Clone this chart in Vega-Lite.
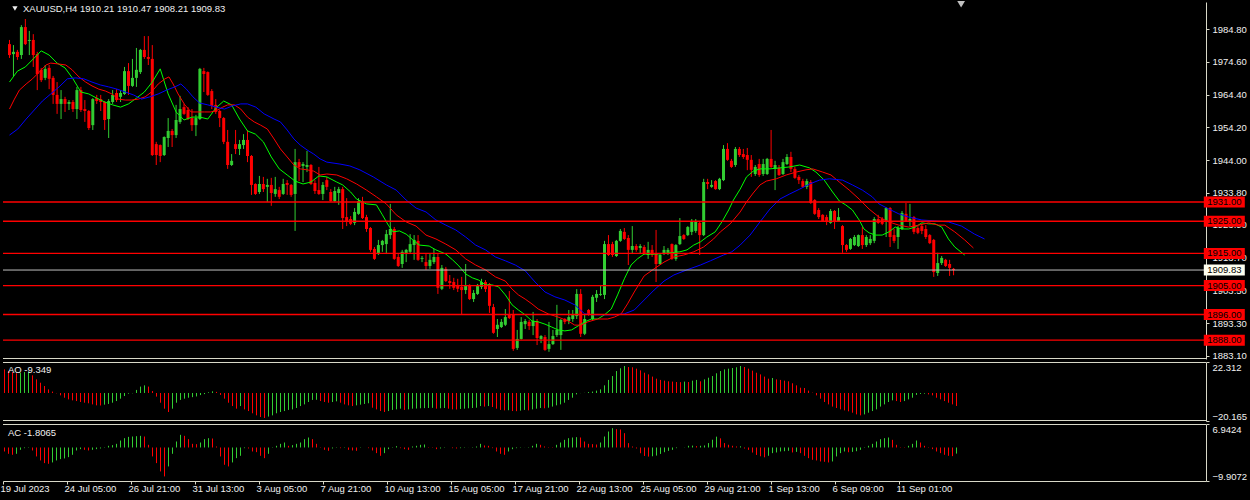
{
"$schema":"https://vega.github.io/schema/vega-lite/v6.json",
"background":"#000000",
"padding":{"left":0,"top":0,"right":3,"bottom":9},
"spacing":3,
"bounds":"flush",
"config":{"view":{"stroke":null},"axis":{"labelFont":"Liberation Sans","labelFontSize":9.5,"labelColor":"#f0f0f0","tickColor":"#d8d8c8","domainColor":"#d8d8c8","grid":false,"labelOverlap":false}},
"datasets":{
"c":[
{"b":0,"o":1980.1,"h":1981.4,"l":1975.8,"c":1976.7},{"b":1,"o":1977.0,"h":1979.8,"l":1969.9,"c":1977.7},{"b":2,"o":1977.7,"h":1978.3,"l":1975.2,"c":1976.1},{"b":3,"o":1976.7,"h":1986.0,"l":1975.5,"c":1985.4},{"b":4,"o":1985.4,"h":1987.9,"l":1979.8,"c":1980.1},{"b":5,"o":1981.1,"h":1984.2,"l":1976.7,"c":1981.4},{"b":6,"o":1981.4,"h":1983.2,"l":1973.0,"c":1976.7},{"b":7,"o":1977.0,"h":1977.7,"l":1965.8,"c":1970.8},{"b":8,"o":1972.1,"h":1972.7,"l":1968.3,"c":1968.9},{"b":9,"o":1969.6,"h":1973.6,"l":1968.9,"c":1972.4},
{"b":10,"o":1972.7,"h":1973.6,"l":1966.1,"c":1969.3},{"b":11,"o":1969.6,"h":1970.2,"l":1961.5,"c":1964.3},{"b":12,"o":1964.3,"h":1968.3,"l":1958.4,"c":1961.5},{"b":13,"o":1961.5,"h":1965.8,"l":1956.8,"c":1963.0},{"b":14,"o":1963.0,"h":1963.7,"l":1959.0,"c":1961.5},{"b":15,"o":1961.5,"h":1962.7,"l":1959.6,"c":1962.1},{"b":16,"o":1962.1,"h":1962.7,"l":1959.0,"c":1959.9},{"b":17,"o":1959.9,"h":1966.8,"l":1956.8,"c":1965.8},{"b":18,"o":1965.8,"h":1966.8,"l":1959.0,"c":1959.6},{"b":19,"o":1959.9,"h":1962.7,"l":1955.9,"c":1959.3},
{"b":20,"o":1959.3,"h":1959.6,"l":1953.4,"c":1954.0},{"b":21,"o":1954.9,"h":1963.3,"l":1953.4,"c":1963.0},{"b":22,"o":1963.3,"h":1964.3,"l":1961.5,"c":1962.4},{"b":23,"o":1963.0,"h":1964.3,"l":1959.3,"c":1962.1},{"b":24,"o":1962.1,"h":1962.4,"l":1953.4,"c":1956.5},{"b":25,"o":1956.8,"h":1963.0,"l":1950.9,"c":1962.4},{"b":26,"o":1962.1,"h":1965.8,"l":1961.5,"c":1964.3},{"b":27,"o":1964.9,"h":1966.1,"l":1962.1,"c":1962.7},{"b":28,"o":1963.7,"h":1965.8,"l":1962.1,"c":1964.9},{"b":29,"o":1964.6,"h":1973.0,"l":1964.3,"c":1971.7},
{"b":30,"o":1971.7,"h":1974.2,"l":1964.3,"c":1967.1},{"b":31,"o":1967.1,"h":1975.5,"l":1966.8,"c":1969.6},{"b":32,"o":1969.6,"h":1978.9,"l":1966.8,"c":1972.1},{"b":33,"o":1971.4,"h":1978.6,"l":1970.8,"c":1978.3},{"b":34,"o":1978.3,"h":1982.6,"l":1975.5,"c":1976.1},{"b":35,"o":1976.1,"h":1982.6,"l":1973.6,"c":1975.5},{"b":36,"o":1975.5,"h":1979.8,"l":1945.3,"c":1945.6},{"b":37,"o":1949.0,"h":1949.7,"l":1942.5,"c":1945.6},{"b":38,"o":1948.7,"h":1948.9,"l":1943.4,"c":1945.3},{"b":39,"o":1945.6,"h":1951.4,"l":1945.3,"c":1951.2},
{"b":40,"o":1950.9,"h":1957.1,"l":1948.1,"c":1953.1},{"b":41,"o":1953.1,"h":1953.7,"l":1948.1,"c":1951.8},{"b":42,"o":1951.8,"h":1961.2,"l":1950.9,"c":1956.5},{"b":43,"o":1955.9,"h":1964.0,"l":1955.3,"c":1959.9},{"b":44,"o":1960.5,"h":1961.5,"l":1958.1,"c":1958.4},{"b":45,"o":1959.6,"h":1960.5,"l":1956.5,"c":1956.8},{"b":46,"o":1957.1,"h":1959.9,"l":1953.1,"c":1954.9},{"b":47,"o":1954.9,"h":1958.1,"l":1951.5,"c":1957.1},{"b":48,"o":1956.8,"h":1972.7,"l":1956.5,"c":1972.4},{"b":49,"o":1971.7,"h":1972.7,"l":1965.2,"c":1970.8},
{"b":50,"o":1971.4,"h":1971.6,"l":1964.0,"c":1964.3},{"b":51,"o":1965.5,"h":1966.1,"l":1959.9,"c":1960.9},{"b":52,"o":1961.2,"h":1963.0,"l":1958.4,"c":1959.0},{"b":53,"o":1959.3,"h":1959.6,"l":1954.3,"c":1957.1},{"b":54,"o":1957.1,"h":1957.4,"l":1949.0,"c":1949.7},{"b":55,"o":1949.7,"h":1953.4,"l":1941.3,"c":1942.5},{"b":56,"o":1942.5,"h":1945.9,"l":1942.2,"c":1943.8},{"b":57,"o":1949.0,"h":1953.4,"l":1945.9,"c":1947.5},{"b":58,"o":1947.5,"h":1950.3,"l":1945.6,"c":1949.0},{"b":59,"o":1948.7,"h":1952.1,"l":1947.5,"c":1950.3},
{"b":60,"o":1950.3,"h":1953.4,"l":1943.4,"c":1945.3},{"b":61,"o":1945.3,"h":1945.6,"l":1933.2,"c":1936.3},{"b":62,"o":1936.6,"h":1936.8,"l":1933.2,"c":1933.5},{"b":63,"o":1934.1,"h":1939.1,"l":1933.5,"c":1936.6},{"b":64,"o":1936.6,"h":1938.8,"l":1934.1,"c":1935.0},{"b":65,"o":1935.7,"h":1938.2,"l":1931.0,"c":1936.3},{"b":66,"o":1936.3,"h":1938.5,"l":1929.8,"c":1933.8},{"b":67,"o":1933.5,"h":1938.8,"l":1932.6,"c":1935.0},{"b":68,"o":1934.7,"h":1935.7,"l":1931.9,"c":1932.6},{"b":69,"o":1933.5,"h":1938.2,"l":1933.2,"c":1936.6},
{"b":70,"o":1936.9,"h":1937.8,"l":1933.2,"c":1936.3},{"b":71,"o":1936.3,"h":1936.6,"l":1932.6,"c":1933.2},{"b":72,"o":1933.5,"h":1947.5,"l":1922.0,"c":1943.4},{"b":73,"o":1943.4,"h":1944.4,"l":1937.5,"c":1941.9},{"b":74,"o":1942.2,"h":1943.4,"l":1937.2,"c":1942.8},{"b":75,"o":1941.9,"h":1946.9,"l":1940.3,"c":1942.5},{"b":76,"o":1942.5,"h":1942.8,"l":1936.3,"c":1936.6},{"b":77,"o":1936.9,"h":1937.8,"l":1933.5,"c":1934.4},{"b":78,"o":1934.7,"h":1941.9,"l":1933.2,"c":1933.5},{"b":79,"o":1933.5,"h":1937.2,"l":1931.6,"c":1936.3},
{"b":80,"o":1937.8,"h":1938.8,"l":1934.7,"c":1935.7},{"b":81,"o":1934.1,"h":1935.0,"l":1931.0,"c":1931.3},{"b":82,"o":1931.3,"h":1935.7,"l":1931.0,"c":1934.4},{"b":83,"o":1933.8,"h":1935.7,"l":1930.1,"c":1935.0},{"b":84,"o":1935.0,"h":1935.7,"l":1922.6,"c":1926.0},{"b":85,"o":1926.3,"h":1932.2,"l":1923.5,"c":1925.1},{"b":86,"o":1925.7,"h":1926.6,"l":1923.8,"c":1924.2},{"b":87,"o":1924.5,"h":1929.1,"l":1923.8,"c":1927.9},{"b":88,"o":1927.3,"h":1932.2,"l":1927.0,"c":1931.3},{"b":89,"o":1931.3,"h":1932.6,"l":1925.7,"c":1926.0},
{"b":90,"o":1926.3,"h":1927.0,"l":1921.7,"c":1922.6},{"b":91,"o":1922.9,"h":1923.2,"l":1915.5,"c":1916.1},{"b":92,"o":1916.4,"h":1917.0,"l":1913.0,"c":1913.3},{"b":93,"o":1914.8,"h":1919.2,"l":1914.5,"c":1917.6},{"b":94,"o":1917.6,"h":1919.2,"l":1915.5,"c":1918.9},{"b":95,"o":1917.9,"h":1922.3,"l":1914.8,"c":1921.0},{"b":96,"o":1920.7,"h":1930.4,"l":1919.5,"c":1922.6},{"b":97,"o":1922.6,"h":1923.2,"l":1913.0,"c":1913.3},{"b":98,"o":1913.9,"h":1914.8,"l":1910.8,"c":1911.1},{"b":99,"o":1911.7,"h":1916.1,"l":1910.5,"c":1915.5},
{"b":100,"o":1914.8,"h":1916.4,"l":1912.3,"c":1916.1},{"b":101,"o":1915.5,"h":1921.0,"l":1914.8,"c":1917.9},{"b":102,"o":1917.6,"h":1920.7,"l":1913.0,"c":1919.2},{"b":103,"o":1918.9,"h":1920.7,"l":1912.7,"c":1913.0},{"b":104,"o":1913.3,"h":1914.2,"l":1912.3,"c":1913.6},{"b":105,"o":1912.3,"h":1914.8,"l":1909.9,"c":1911.1},{"b":106,"o":1911.1,"h":1914.8,"l":1910.2,"c":1913.0},{"b":107,"o":1912.3,"h":1916.4,"l":1911.7,"c":1913.9},{"b":108,"o":1913.9,"h":1914.8,"l":1902.4,"c":1904.3},{"b":109,"o":1904.0,"h":1911.4,"l":1903.6,"c":1910.5},
{"b":110,"o":1910.2,"h":1910.8,"l":1906.1,"c":1906.4},{"b":111,"o":1906.4,"h":1908.3,"l":1904.0,"c":1905.8},{"b":112,"o":1906.1,"h":1907.4,"l":1903.6,"c":1904.3},{"b":113,"o":1905.2,"h":1907.1,"l":1903.0,"c":1904.0},{"b":114,"o":1904.6,"h":1907.7,"l":1895.9,"c":1903.6},{"b":115,"o":1903.6,"h":1911.7,"l":1902.4,"c":1904.9},{"b":116,"o":1905.2,"h":1905.4,"l":1900.5,"c":1900.8},{"b":117,"o":1900.8,"h":1903.6,"l":1899.9,"c":1902.7},{"b":118,"o":1902.4,"h":1905.5,"l":1902.1,"c":1905.2},{"b":119,"o":1904.6,"h":1907.1,"l":1903.9,"c":1906.1},
{"b":120,"o":1906.1,"h":1906.7,"l":1903.0,"c":1903.9},{"b":121,"o":1905.5,"h":1905.8,"l":1896.5,"c":1898.7},{"b":122,"o":1898.3,"h":1899.3,"l":1890.0,"c":1890.3},{"b":123,"o":1891.5,"h":1894.6,"l":1889.0,"c":1892.8},{"b":124,"o":1892.1,"h":1894.6,"l":1891.8,"c":1893.7},{"b":125,"o":1892.8,"h":1897.7,"l":1892.4,"c":1895.2},{"b":126,"o":1895.9,"h":1903.3,"l":1894.6,"c":1894.9},{"b":127,"o":1895.9,"h":1897.4,"l":1884.7,"c":1885.3},{"b":128,"o":1885.6,"h":1891.2,"l":1885.0,"c":1888.4},{"b":129,"o":1888.4,"h":1895.2,"l":1888.2,"c":1893.7},
{"b":130,"o":1893.0,"h":1894.6,"l":1891.5,"c":1894.0},{"b":131,"o":1893.7,"h":1894.3,"l":1891.2,"c":1892.4},{"b":132,"o":1892.4,"h":1896.8,"l":1889.6,"c":1894.0},{"b":133,"o":1894.0,"h":1894.6,"l":1886.5,"c":1888.7},{"b":134,"o":1888.4,"h":1889.6,"l":1887.1,"c":1889.3},{"b":135,"o":1889.0,"h":1889.6,"l":1884.7,"c":1885.0},{"b":136,"o":1885.3,"h":1893.7,"l":1884.4,"c":1886.8},{"b":137,"o":1886.8,"h":1891.2,"l":1886.5,"c":1889.3},{"b":138,"o":1889.6,"h":1899.0,"l":1889.0,"c":1891.2},{"b":139,"o":1889.6,"h":1894.6,"l":1885.0,"c":1894.3},
{"b":140,"o":1894.6,"h":1894.9,"l":1893.0,"c":1893.7},{"b":141,"o":1894.0,"h":1897.4,"l":1893.0,"c":1895.2},{"b":142,"o":1894.6,"h":1897.4,"l":1893.7,"c":1895.9},{"b":143,"o":1895.5,"h":1903.9,"l":1894.6,"c":1902.4},{"b":144,"o":1902.4,"h":1903.9,"l":1889.0,"c":1890.0},{"b":145,"o":1890.0,"h":1895.9,"l":1889.6,"c":1894.6},{"b":146,"o":1897.4,"h":1897.7,"l":1895.6,"c":1895.9},{"b":147,"o":1894.6,"h":1902.1,"l":1894.3,"c":1901.5},{"b":148,"o":1901.2,"h":1903.6,"l":1899.9,"c":1902.4},{"b":149,"o":1902.1,"h":1905.2,"l":1901.8,"c":1902.4},
{"b":150,"o":1902.1,"h":1918.9,"l":1900.8,"c":1917.9},{"b":151,"o":1917.9,"h":1920.7,"l":1914.2,"c":1914.5},{"b":152,"o":1917.9,"h":1918.6,"l":1913.9,"c":1914.5},{"b":153,"o":1914.2,"h":1919.2,"l":1913.9,"c":1918.9},{"b":154,"o":1918.9,"h":1922.6,"l":1918.6,"c":1922.0},{"b":155,"o":1921.7,"h":1922.9,"l":1919.2,"c":1919.5},{"b":156,"o":1919.8,"h":1920.7,"l":1911.4,"c":1916.1},{"b":157,"o":1916.1,"h":1923.5,"l":1914.8,"c":1917.3},{"b":158,"o":1917.3,"h":1917.9,"l":1915.5,"c":1916.1},{"b":159,"o":1916.7,"h":1917.9,"l":1914.8,"c":1917.3},
{"b":160,"o":1917.0,"h":1917.6,"l":1914.6,"c":1914.8},{"b":161,"o":1914.5,"h":1918.6,"l":1913.3,"c":1916.1},{"b":162,"o":1916.1,"h":1917.6,"l":1913.9,"c":1914.5},{"b":163,"o":1914.8,"h":1922.3,"l":1906.1,"c":1911.7},{"b":164,"o":1911.7,"h":1914.8,"l":1911.5,"c":1914.5},{"b":165,"o":1914.8,"h":1917.3,"l":1914.5,"c":1916.1},{"b":166,"o":1915.2,"h":1916.7,"l":1914.5,"c":1916.1},{"b":167,"o":1917.9,"h":1918.1,"l":1913.0,"c":1913.3},{"b":168,"o":1913.3,"h":1917.9,"l":1912.7,"c":1917.6},{"b":169,"o":1917.9,"h":1926.0,"l":1917.6,"c":1920.4},
{"b":170,"o":1920.7,"h":1921.0,"l":1919.2,"c":1919.5},{"b":171,"o":1920.7,"h":1923.5,"l":1920.4,"c":1923.2},{"b":172,"o":1921.7,"h":1925.7,"l":1920.7,"c":1924.8},{"b":173,"o":1922.0,"h":1925.7,"l":1921.4,"c":1925.1},{"b":174,"o":1924.5,"h":1925.1,"l":1914.5,"c":1920.7},{"b":175,"o":1920.7,"h":1938.2,"l":1920.4,"c":1937.2},{"b":176,"o":1937.2,"h":1938.2,"l":1935.0,"c":1936.6},{"b":177,"o":1935.7,"h":1937.8,"l":1935.4,"c":1936.3},{"b":178,"o":1937.5,"h":1937.8,"l":1934.8,"c":1935.0},{"b":179,"o":1935.0,"h":1938.5,"l":1934.7,"c":1938.2},
{"b":180,"o":1937.8,"h":1948.7,"l":1937.5,"c":1947.5},{"b":181,"o":1947.5,"h":1949.3,"l":1943.8,"c":1944.1},{"b":182,"o":1943.8,"h":1944.4,"l":1941.6,"c":1941.9},{"b":183,"o":1942.5,"h":1948.1,"l":1941.9,"c":1947.5},{"b":184,"o":1947.5,"h":1948.1,"l":1945.0,"c":1945.6},{"b":185,"o":1945.9,"h":1947.5,"l":1944.4,"c":1945.0},{"b":186,"o":1945.6,"h":1947.8,"l":1940.9,"c":1944.1},{"b":187,"o":1944.1,"h":1945.6,"l":1938.8,"c":1941.0},{"b":188,"o":1939.7,"h":1942.5,"l":1939.1,"c":1941.9},{"b":189,"o":1942.8,"h":1944.4,"l":1938.8,"c":1939.4},
{"b":190,"o":1939.7,"h":1944.4,"l":1939.1,"c":1942.8},{"b":191,"o":1939.7,"h":1944.7,"l":1939.4,"c":1944.4},{"b":192,"o":1944.4,"h":1953.4,"l":1941.6,"c":1941.9},{"b":193,"o":1941.3,"h":1943.8,"l":1934.7,"c":1942.5},{"b":194,"o":1941.6,"h":1942.5,"l":1939.1,"c":1939.4},{"b":195,"o":1939.7,"h":1944.4,"l":1939.4,"c":1943.4},{"b":196,"o":1942.8,"h":1945.9,"l":1942.5,"c":1945.0},{"b":197,"o":1945.0,"h":1946.6,"l":1940.3,"c":1941.3},{"b":198,"o":1941.3,"h":1941.9,"l":1938.2,"c":1938.5},{"b":199,"o":1938.8,"h":1939.4,"l":1936.6,"c":1937.8},
{"b":200,"o":1937.5,"h":1938.2,"l":1935.4,"c":1935.7},{"b":201,"o":1935.7,"h":1938.2,"l":1935.0,"c":1937.5},{"b":202,"o":1937.2,"h":1937.8,"l":1930.4,"c":1930.7},{"b":203,"o":1931.6,"h":1931.9,"l":1927.0,"c":1927.3},{"b":204,"o":1928.5,"h":1929.1,"l":1925.7,"c":1926.3},{"b":205,"o":1927.0,"h":1927.2,"l":1924.8,"c":1925.1},{"b":206,"o":1926.3,"h":1927.0,"l":1923.8,"c":1925.1},{"b":207,"o":1924.5,"h":1928.8,"l":1924.2,"c":1928.2},{"b":208,"o":1928.2,"h":1928.5,"l":1922.6,"c":1924.8},{"b":209,"o":1925.1,"h":1929.1,"l":1924.8,"c":1926.3},
{"b":210,"o":1923.5,"h":1923.8,"l":1915.2,"c":1917.6},{"b":211,"o":1917.6,"h":1917.9,"l":1915.5,"c":1916.1},{"b":212,"o":1916.4,"h":1919.8,"l":1916.1,"c":1919.5},{"b":213,"o":1917.6,"h":1920.7,"l":1917.3,"c":1920.1},{"b":214,"o":1917.3,"h":1920.9,"l":1917.0,"c":1920.7},{"b":215,"o":1920.7,"h":1923.2,"l":1916.4,"c":1917.6},{"b":216,"o":1917.6,"h":1920.7,"l":1917.0,"c":1920.1},{"b":217,"o":1918.2,"h":1920.7,"l":1917.6,"c":1919.5},{"b":218,"o":1918.9,"h":1926.3,"l":1918.2,"c":1925.7},{"b":219,"o":1925.7,"h":1927.0,"l":1924.2,"c":1924.5},
{"b":220,"o":1925.7,"h":1926.3,"l":1923.8,"c":1924.2},{"b":221,"o":1925.1,"h":1929.4,"l":1920.1,"c":1929.1},{"b":222,"o":1929.1,"h":1929.4,"l":1917.0,"c":1920.1},{"b":223,"o":1920.7,"h":1922.6,"l":1918.2,"c":1918.9},{"b":224,"o":1920.1,"h":1923.5,"l":1916.4,"c":1922.9},{"b":225,"o":1922.6,"h":1928.2,"l":1922.3,"c":1927.6},{"b":226,"o":1927.3,"h":1930.7,"l":1924.8,"c":1925.1},{"b":227,"o":1925.1,"h":1930.4,"l":1923.5,"c":1925.7},{"b":228,"o":1926.3,"h":1926.6,"l":1921.0,"c":1921.7},{"b":229,"o":1922.9,"h":1923.5,"l":1921.0,"c":1921.4},
{"b":230,"o":1923.5,"h":1924.2,"l":1921.0,"c":1922.0},{"b":231,"o":1922.6,"h":1923.8,"l":1919.5,"c":1920.1},{"b":232,"o":1920.7,"h":1921.0,"l":1917.9,"c":1918.2},{"b":233,"o":1919.2,"h":1919.5,"l":1907.7,"c":1909.2},{"b":234,"o":1908.9,"h":1915.2,"l":1908.0,"c":1912.0},{"b":235,"o":1912.0,"h":1914.2,"l":1911.4,"c":1913.6},{"b":236,"o":1913.0,"h":1913.3,"l":1910.8,"c":1911.1},{"b":237,"o":1911.7,"h":1913.0,"l":1908.0,"c":1910.5},{"b":238,"o":1910.21,"h":1910.47,"l":1908.21,"c":1909.83}
],
"ma":[
{"s":"lips","b":0,"v":1968.3},{"s":"lips","b":2,"v":1971.7},{"s":"lips","b":4,"v":1973.0},{"s":"lips","b":6,"v":1975.5},{"s":"lips","b":8,"v":1978.0},{"s":"lips","b":10,"v":1976.7},{"s":"lips","b":12,"v":1974.2},{"s":"lips","b":14,"v":1972.7},{"s":"lips","b":16,"v":1969.3},{"s":"lips","b":18,"v":1965.2},{"s":"lips","b":20,"v":1964.6},{"s":"lips","b":22,"v":1963.3},{"s":"lips","b":24,"v":1962.1},{"s":"lips","b":26,"v":1961.2},{"s":"lips","b":28,"v":1960.5},{"s":"lips","b":30,"v":1961.5},{"s":"lips","b":32,"v":1963.3},{"s":"lips","b":34,"v":1965.2},{"s":"lips","b":36,"v":1968.3},{"s":"lips","b":38,"v":1972.4},{"s":"lips","b":40,"v":1964.6},{"s":"lips","b":42,"v":1959.0},{"s":"lips","b":44,"v":1956.5},{"s":"lips","b":46,"v":1957.4},{"s":"lips","b":48,"v":1957.4},{"s":"lips","b":50,"v":1956.8},{"s":"lips","b":52,"v":1960.2},{"s":"lips","b":54,"v":1962.4},{"s":"lips","b":56,"v":1961.2},{"s":"lips","b":58,"v":1956.8},{"s":"lips","b":60,"v":1953.1},{"s":"lips","b":62,"v":1952.1},{"s":"lips","b":64,"v":1949.7},{"s":"lips","b":66,"v":1945.0},{"s":"lips","b":68,"v":1941.3},{"s":"lips","b":70,"v":1939.4},{"s":"lips","b":72,"v":1937.5},{"s":"lips","b":74,"v":1936.6},{"s":"lips","b":76,"v":1937.2},{"s":"lips","b":78,"v":1939.1},{"s":"lips","b":80,"v":1938.8},{"s":"lips","b":82.5,"v":1937.2},{"s":"lips","b":84,"v":1936.3},{"s":"lips","b":86,"v":1934.1},{"s":"lips","b":87.5,"v":1931.9},{"s":"lips","b":90,"v":1930.4},{"s":"lips","b":92.5,"v":1930.1},{"s":"lips","b":94,"v":1927.0},{"s":"lips","b":95.5,"v":1923.8},{"s":"lips","b":96.7,"v":1921.7},{"s":"lips","b":98.3,"v":1922.0},{"s":"lips","b":100,"v":1921.0},{"s":"lips","b":101.7,"v":1919.2},{"s":"lips","b":103.3,"v":1917.6},{"s":"lips","b":105.8,"v":1917.3},{"s":"lips","b":107.5,"v":1916.1},{"s":"lips","b":110,"v":1914.8},{"s":"lips","b":111.7,"v":1913.0},{"s":"lips","b":113.3,"v":1911.1},{"s":"lips","b":115,"v":1908.6},{"s":"lips","b":116.7,"v":1907.4},{"s":"lips","b":118.3,"v":1906.7},{"s":"lips","b":120,"v":1905.2},{"s":"lips","b":121.7,"v":1905.2},{"s":"lips","b":123.3,"v":1904.6},{"s":"lips","b":125,"v":1902.1},{"s":"lips","b":126.7,"v":1899.0},{"s":"lips","b":128.3,"v":1897.4},{"s":"lips","b":130,"v":1895.9},{"s":"lips","b":131.7,"v":1894.0},{"s":"lips","b":133.3,"v":1893.7},{"s":"lips","b":135,"v":1893.0},{"s":"lips","b":136.7,"v":1892.1},{"s":"lips","b":138.3,"v":1891.2},{"s":"lips","b":140,"v":1890.9},{"s":"lips","b":141.7,"v":1891.2},{"s":"lips","b":143.3,"v":1892.4},{"s":"lips","b":145,"v":1893.7},{"s":"lips","b":146.7,"v":1894.6},{"s":"lips","b":148.3,"v":1894.6},{"s":"lips","b":150,"v":1895.9},{"s":"lips","b":151.7,"v":1897.7},{"s":"lips","b":153.3,"v":1902.1},{"s":"lips","b":155,"v":1907.1},{"s":"lips","b":156.7,"v":1911.4},{"s":"lips","b":158.3,"v":1913.3},{"s":"lips","b":160,"v":1914.8},{"s":"lips","b":163.3,"v":1914.8},{"s":"lips","b":166,"v":1915.1},{"s":"lips","b":169,"v":1915.5},{"s":"lips","b":170.8,"v":1916.1},{"s":"lips","b":172.5,"v":1917.6},{"s":"lips","b":174.2,"v":1918.6},{"s":"lips","b":175.8,"v":1920.1},{"s":"lips","b":177.9,"v":1921.7},{"s":"lips","b":179.6,"v":1924.8},{"s":"lips","b":181.3,"v":1928.5},{"s":"lips","b":182.5,"v":1931.6},{"s":"lips","b":184.2,"v":1935.0},{"s":"lips","b":185.8,"v":1938.8},{"s":"lips","b":187.5,"v":1940.6},{"s":"lips","b":189.2,"v":1941.3},{"s":"lips","b":191.7,"v":1941.3},{"s":"lips","b":194.2,"v":1941.6},{"s":"lips","b":196.7,"v":1941.9},{"s":"lips","b":199.2,"v":1942.5},{"s":"lips","b":201.7,"v":1941.6},{"s":"lips","b":203.3,"v":1940.3},{"s":"lips","b":205.4,"v":1937.8},{"s":"lips","b":207.5,"v":1934.1},{"s":"lips","b":209.2,"v":1931.3},{"s":"lips","b":210.8,"v":1930.1},{"s":"lips","b":212.5,"v":1928.5},{"s":"lips","b":214.2,"v":1925.4},{"s":"lips","b":215.4,"v":1922.6},{"s":"lips","b":216.7,"v":1921.4},{"s":"lips","b":218.3,"v":1920.7},{"s":"lips","b":220,"v":1920.7},{"s":"lips","b":221.7,"v":1921.7},{"s":"lips","b":223.3,"v":1923.2},{"s":"lips","b":225,"v":1922.6},{"s":"lips","b":226.7,"v":1922.6},{"s":"lips","b":228.3,"v":1923.2},{"s":"lips","b":230,"v":1924.5},{"s":"lips","b":231.7,"v":1924.2},{"s":"lips","b":233.3,"v":1924.2},{"s":"lips","b":235,"v":1923.2},{"s":"lips","b":236.7,"v":1919.5},{"s":"lips","b":238.3,"v":1917.0},{"s":"lips","b":240.8,"v":1914.5},
{"s":"teeth","b":0,"v":1959.9},{"s":"teeth","b":1.25,"v":1963.0},{"s":"teeth","b":2.5,"v":1965.8},{"s":"teeth","b":4.2,"v":1967.7},{"s":"teeth","b":5.8,"v":1969.3},{"s":"teeth","b":7.5,"v":1971.4},{"s":"teeth","b":9.2,"v":1973.6},{"s":"teeth","b":10.4,"v":1974.2},{"s":"teeth","b":12.5,"v":1973.9},{"s":"teeth","b":14.2,"v":1973.6},{"s":"teeth","b":15.8,"v":1972.1},{"s":"teeth","b":17.5,"v":1969.9},{"s":"teeth","b":19.2,"v":1968.3},{"s":"teeth","b":20.8,"v":1967.1},{"s":"teeth","b":22.5,"v":1966.1},{"s":"teeth","b":24.2,"v":1965.5},{"s":"teeth","b":25.8,"v":1964.6},{"s":"teeth","b":27.5,"v":1963.0},{"s":"teeth","b":29.2,"v":1962.7},{"s":"teeth","b":30.8,"v":1962.7},{"s":"teeth","b":32.5,"v":1963.0},{"s":"teeth","b":34.2,"v":1963.7},{"s":"teeth","b":35.8,"v":1965.2},{"s":"teeth","b":37.5,"v":1967.7},{"s":"teeth","b":39.2,"v":1969.3},{"s":"teeth","b":40.2,"v":1969.9},{"s":"teeth","b":41.25,"v":1967.7},{"s":"teeth","b":42.5,"v":1964.6},{"s":"teeth","b":44.2,"v":1961.2},{"s":"teeth","b":45.8,"v":1959.0},{"s":"teeth","b":47.5,"v":1959.0},{"s":"teeth","b":49.2,"v":1959.0},{"s":"teeth","b":50.8,"v":1959.0},{"s":"teeth","b":52.5,"v":1959.6},{"s":"teeth","b":53.75,"v":1960.5},{"s":"teeth","b":55,"v":1961.2},{"s":"teeth","b":56.7,"v":1961.2},{"s":"teeth","b":58.3,"v":1959.9},{"s":"teeth","b":60,"v":1957.4},{"s":"teeth","b":61.7,"v":1955.9},{"s":"teeth","b":63.3,"v":1954.9},{"s":"teeth","b":65,"v":1953.7},{"s":"teeth","b":66.7,"v":1950.6},{"s":"teeth","b":68.3,"v":1947.5},{"s":"teeth","b":70,"v":1945.0},{"s":"teeth","b":71.7,"v":1942.5},{"s":"teeth","b":73.3,"v":1941.3},{"s":"teeth","b":75,"v":1941.0},{"s":"teeth","b":76.7,"v":1940.6},{"s":"teeth","b":78.3,"v":1939.4},{"s":"teeth","b":80,"v":1939.7},{"s":"teeth","b":82.5,"v":1939.4},{"s":"teeth","b":85,"v":1938.2},{"s":"teeth","b":87.5,"v":1936.6},{"s":"teeth","b":90,"v":1934.7},{"s":"teeth","b":92.5,"v":1932.6},{"s":"teeth","b":95,"v":1930.4},{"s":"teeth","b":97.5,"v":1927.0},{"s":"teeth","b":100,"v":1924.8},{"s":"teeth","b":102.5,"v":1923.5},{"s":"teeth","b":105,"v":1920.7},{"s":"teeth","b":107.5,"v":1919.5},{"s":"teeth","b":110,"v":1917.9},{"s":"teeth","b":112.5,"v":1916.1},{"s":"teeth","b":115,"v":1913.3},{"s":"teeth","b":117.5,"v":1911.4},{"s":"teeth","b":120,"v":1909.9},{"s":"teeth","b":122.5,"v":1907.7},{"s":"teeth","b":125,"v":1906.4},{"s":"teeth","b":126.7,"v":1903.9},{"s":"teeth","b":128.3,"v":1902.1},{"s":"teeth","b":130,"v":1900.8},{"s":"teeth","b":131.7,"v":1899.3},{"s":"teeth","b":133.3,"v":1897.7},{"s":"teeth","b":135.8,"v":1896.2},{"s":"teeth","b":138.3,"v":1895.2},{"s":"teeth","b":140.8,"v":1894.0},{"s":"teeth","b":142.5,"v":1892.7},{"s":"teeth","b":144.2,"v":1892.7},{"s":"teeth","b":145.8,"v":1893.7},{"s":"teeth","b":148.3,"v":1894.6},{"s":"teeth","b":150.8,"v":1894.6},{"s":"teeth","b":152.5,"v":1895.2},{"s":"teeth","b":154.2,"v":1896.2},{"s":"teeth","b":155.8,"v":1899.3},{"s":"teeth","b":157.5,"v":1903.0},{"s":"teeth","b":160,"v":1908.0},{"s":"teeth","b":162.5,"v":1910.2},{"s":"teeth","b":165,"v":1912.3},{"s":"teeth","b":167.5,"v":1913.9},{"s":"teeth","b":170,"v":1914.5},{"s":"teeth","b":172.5,"v":1915.5},{"s":"teeth","b":175,"v":1917.0},{"s":"teeth","b":177.5,"v":1919.5},{"s":"teeth","b":179.2,"v":1921.7},{"s":"teeth","b":181.7,"v":1924.2},{"s":"teeth","b":184.2,"v":1927.9},{"s":"teeth","b":185.8,"v":1931.0},{"s":"teeth","b":187.5,"v":1933.8},{"s":"teeth","b":189.2,"v":1936.3},{"s":"teeth","b":190.8,"v":1937.5},{"s":"teeth","b":193.3,"v":1938.2},{"s":"teeth","b":195.8,"v":1939.4},{"s":"teeth","b":198.3,"v":1940.3},{"s":"teeth","b":200.8,"v":1941.0},{"s":"teeth","b":202.5,"v":1941.3},{"s":"teeth","b":205,"v":1940.3},{"s":"teeth","b":207.1,"v":1939.4},{"s":"teeth","b":209.2,"v":1937.2},{"s":"teeth","b":211.7,"v":1934.7},{"s":"teeth","b":214.2,"v":1931.9},{"s":"teeth","b":216.7,"v":1928.8},{"s":"teeth","b":219.2,"v":1926.3},{"s":"teeth","b":221.7,"v":1924.8},{"s":"teeth","b":224.2,"v":1923.8},{"s":"teeth","b":226.7,"v":1923.2},{"s":"teeth","b":229.2,"v":1923.8},{"s":"teeth","b":231.7,"v":1924.5},{"s":"teeth","b":234.2,"v":1923.8},{"s":"teeth","b":235.8,"v":1923.8},{"s":"teeth","b":238.3,"v":1921.7},{"s":"teeth","b":240.8,"v":1919.2},{"s":"teeth","b":243,"v":1916.7},
{"s":"jaw","b":0,"v":1951.8},{"s":"jaw","b":2.1,"v":1953.7},{"s":"jaw","b":4.2,"v":1956.8},{"s":"jaw","b":6.25,"v":1959.6},{"s":"jaw","b":8.3,"v":1962.4},{"s":"jaw","b":10.4,"v":1964.6},{"s":"jaw","b":12.5,"v":1966.8},{"s":"jaw","b":14.6,"v":1969.3},{"s":"jaw","b":16.7,"v":1969.6},{"s":"jaw","b":18.75,"v":1969.3},{"s":"jaw","b":20.8,"v":1968.3},{"s":"jaw","b":22.9,"v":1967.4},{"s":"jaw","b":25,"v":1966.8},{"s":"jaw","b":27.1,"v":1966.1},{"s":"jaw","b":29.2,"v":1965.2},{"s":"jaw","b":31.25,"v":1964.3},{"s":"jaw","b":33.3,"v":1963.0},{"s":"jaw","b":35.4,"v":1963.7},{"s":"jaw","b":37.5,"v":1964.6},{"s":"jaw","b":39.6,"v":1965.8},{"s":"jaw","b":41.7,"v":1966.8},{"s":"jaw","b":43.2,"v":1967.7},{"s":"jaw","b":44.6,"v":1966.1},{"s":"jaw","b":46.25,"v":1963.7},{"s":"jaw","b":47.9,"v":1961.8},{"s":"jaw","b":50,"v":1961.2},{"s":"jaw","b":52.1,"v":1960.5},{"s":"jaw","b":54.2,"v":1959.9},{"s":"jaw","b":56.25,"v":1960.9},{"s":"jaw","b":58.3,"v":1961.5},{"s":"jaw","b":60,"v":1961.5},{"s":"jaw","b":62.1,"v":1960.5},{"s":"jaw","b":64.2,"v":1958.4},{"s":"jaw","b":66.7,"v":1956.8},{"s":"jaw","b":68.3,"v":1955.9},{"s":"jaw","b":70,"v":1953.4},{"s":"jaw","b":71.7,"v":1950.6},{"s":"jaw","b":73.3,"v":1948.7},{"s":"jaw","b":75,"v":1947.2},{"s":"jaw","b":76.7,"v":1945.9},{"s":"jaw","b":78.3,"v":1944.4},{"s":"jaw","b":80,"v":1943.4},{"s":"jaw","b":83.3,"v":1942.8},{"s":"jaw","b":85.8,"v":1942.2},{"s":"jaw","b":88.3,"v":1941.0},{"s":"jaw","b":91.7,"v":1938.8},{"s":"jaw","b":95,"v":1936.3},{"s":"jaw","b":97.5,"v":1934.7},{"s":"jaw","b":100,"v":1931.6},{"s":"jaw","b":102.5,"v":1929.1},{"s":"jaw","b":105,"v":1927.9},{"s":"jaw","b":107.5,"v":1925.4},{"s":"jaw","b":110,"v":1923.8},{"s":"jaw","b":112.5,"v":1922.3},{"s":"jaw","b":115,"v":1920.1},{"s":"jaw","b":117.5,"v":1917.6},{"s":"jaw","b":120,"v":1916.1},{"s":"jaw","b":122.5,"v":1913.9},{"s":"jaw","b":125,"v":1912.7},{"s":"jaw","b":127.5,"v":1911.4},{"s":"jaw","b":130,"v":1909.6},{"s":"jaw","b":132.5,"v":1906.1},{"s":"jaw","b":135,"v":1903.0},{"s":"jaw","b":137.5,"v":1901.5},{"s":"jaw","b":140,"v":1900.5},{"s":"jaw","b":142.5,"v":1899.0},{"s":"jaw","b":145,"v":1896.2},{"s":"jaw","b":147.5,"v":1895.9},{"s":"jaw","b":150,"v":1895.9},{"s":"jaw","b":152.5,"v":1895.9},{"s":"jaw","b":155,"v":1896.2},{"s":"jaw","b":157.5,"v":1897.4},{"s":"jaw","b":160,"v":1900.5},{"s":"jaw","b":162.5,"v":1903.6},{"s":"jaw","b":165,"v":1906.4},{"s":"jaw","b":167.5,"v":1908.3},{"s":"jaw","b":170.8,"v":1909.9},{"s":"jaw","b":174.2,"v":1911.4},{"s":"jaw","b":176.7,"v":1912.7},{"s":"jaw","b":180,"v":1914.5},{"s":"jaw","b":182.1,"v":1915.5},{"s":"jaw","b":184.2,"v":1917.6},{"s":"jaw","b":186.7,"v":1920.7},{"s":"jaw","b":189.2,"v":1924.8},{"s":"jaw","b":191.7,"v":1928.8},{"s":"jaw","b":194.2,"v":1931.9},{"s":"jaw","b":196.7,"v":1933.5},{"s":"jaw","b":199.2,"v":1935.0},{"s":"jaw","b":201.7,"v":1936.6},{"s":"jaw","b":204.2,"v":1937.8},{"s":"jaw","b":206.7,"v":1938.2},{"s":"jaw","b":210,"v":1937.8},{"s":"jaw","b":212.5,"v":1936.3},{"s":"jaw","b":215,"v":1934.7},{"s":"jaw","b":217.5,"v":1932.6},{"s":"jaw","b":219.2,"v":1930.4},{"s":"jaw","b":221.7,"v":1928.8},{"s":"jaw","b":224.2,"v":1927.3},{"s":"jaw","b":226.7,"v":1926.3},{"s":"jaw","b":230,"v":1925.4},{"s":"jaw","b":233.3,"v":1925.1},{"s":"jaw","b":236.7,"v":1924.8},{"s":"jaw","b":240,"v":1923.5},{"s":"jaw","b":243.3,"v":1921.0},{"s":"jaw","b":245.8,"v":1919.5}
],
"ao":[
{"b":0,"v":17.0,"d":"r"},{"b":1,"v":15.8,"d":"r"},{"b":2,"v":15.1,"d":"r"},{"b":3,"v":14.2,"d":"r"},{"b":4,"v":14.6,"d":"g"},{"b":5,"v":15.1,"d":"g"},{"b":6,"v":15.4,"d":"g"},{"b":7,"v":12.7,"d":"r"},{"b":8,"v":9.8,"d":"r"},{"b":9,"v":7.4,"d":"r"},{"b":10,"v":5.0,"d":"r"},{"b":11,"v":2.6,"d":"r"},{"b":12,"v":1.0,"d":"r"},{"b":13,"v":-0.2,"d":"r"},{"b":14,"v":-1.7,"d":"r"},{"b":15,"v":-3.4,"d":"r"},{"b":16,"v":-4.6,"d":"r"},{"b":17,"v":-5.3,"d":"r"},{"b":18,"v":-5.8,"d":"r"},{"b":19,"v":-6.5,"d":"r"},{"b":20,"v":-7.0,"d":"r"},{"b":21,"v":-7.4,"d":"r"},{"b":22,"v":-8.2,"d":"r"},{"b":23,"v":-8.9,"d":"r"},{"b":24,"v":-9.0,"d":"r"},{"b":25,"v":-8.4,"d":"g"},{"b":26,"v":-7.9,"d":"g"},{"b":27,"v":-7.0,"d":"g"},{"b":28,"v":-5.8,"d":"g"},{"b":29,"v":-4.1,"d":"g"},{"b":30,"v":-2.2,"d":"g"},{"b":31,"v":-0.5,"d":"g"},{"b":32,"v":-0.2,"d":"g"},{"b":33,"v":2.2,"d":"g"},{"b":34,"v":4.6,"d":"g"},{"b":35,"v":5.5,"d":"g"},{"b":36,"v":4.6,"d":"r"},{"b":37,"v":1.4,"d":"r"},{"b":38,"v":-2.6,"d":"r"},{"b":39,"v":-7.0,"d":"r"},{"b":40,"v":-11.3,"d":"r"},{"b":41,"v":-13.7,"d":"r"},{"b":42,"v":-11.3,"d":"g"},{"b":43,"v":-7.0,"d":"g"},{"b":44,"v":-5.0,"d":"g"},{"b":45,"v":-4.1,"d":"g"},{"b":46,"v":-3.4,"d":"g"},{"b":47,"v":-3.0,"d":"g"},{"b":48,"v":-2.5,"d":"g"},{"b":49,"v":-1.5,"d":"g"},{"b":50,"v":-0.8,"d":"g"},{"b":51,"v":0.5,"d":"g"},{"b":52,"v":1.2,"d":"g"},{"b":53,"v":0.8,"d":"r"},{"b":54,"v":-1.4,"d":"r"},{"b":55,"v":-4.1,"d":"r"},{"b":56,"v":-7.0,"d":"r"},{"b":57,"v":-9.4,"d":"r"},{"b":58,"v":-11.3,"d":"r"},{"b":59,"v":-9.4,"d":"g"},{"b":60,"v":-11.8,"d":"r"},{"b":61,"v":-13.0,"d":"r"},{"b":62,"v":-14.6,"d":"r"},{"b":63,"v":-16.1,"d":"r"},{"b":64,"v":-17.3,"d":"r"},{"b":65,"v":-18.0,"d":"r"},{"b":66,"v":-17.0,"d":"g"},{"b":67,"v":-16.1,"d":"g"},{"b":68,"v":-14.6,"d":"g"},{"b":69,"v":-13.7,"d":"g"},{"b":70,"v":-13.0,"d":"g"},{"b":71,"v":-12.2,"d":"g"},{"b":72,"v":-11.8,"d":"g"},{"b":73,"v":-10.8,"d":"g"},{"b":74,"v":-9.4,"d":"g"},{"b":75,"v":-8.2,"d":"g"},{"b":76,"v":-6.5,"d":"g"},{"b":77,"v":-5.0,"d":"g"},{"b":78,"v":-4.9,"d":"g"},{"b":79,"v":-5.8,"d":"r"},{"b":80,"v":-6.5,"d":"r"},{"b":81,"v":-7.0,"d":"r"},{"b":82,"v":-6.5,"d":"g"},{"b":83,"v":-6.0,"d":"g"},{"b":84,"v":-7.0,"d":"r"},{"b":85,"v":-8.2,"d":"r"},{"b":86,"v":-8.9,"d":"r"},{"b":87,"v":-9.4,"d":"r"},{"b":88,"v":-8.9,"d":"g"},{"b":89,"v":-8.4,"d":"g"},{"b":90,"v":-7.9,"d":"g"},{"b":91,"v":-7.4,"d":"g"},{"b":92,"v":-10.6,"d":"r"},{"b":93,"v":-11.8,"d":"r"},{"b":94,"v":-13.0,"d":"r"},{"b":95,"v":-13.7,"d":"r"},{"b":96,"v":-13.0,"d":"g"},{"b":97,"v":-12.2,"d":"g"},{"b":98,"v":-11.8,"d":"g"},{"b":99,"v":-11.3,"d":"g"},
{"b":100,"v":-12.2,"d":"r"},{"b":101,"v":-11.8,"d":"g"},{"b":102,"v":-11.3,"d":"g"},{"b":103,"v":-11.2,"d":"g"},{"b":104,"v":-11.0,"d":"g"},{"b":105,"v":-10.9,"d":"g"},{"b":106,"v":-10.8,"d":"g"},{"b":107,"v":-10.7,"d":"g"},{"b":108,"v":-11.3,"d":"r"},{"b":109,"v":-11.0,"d":"g"},{"b":110,"v":-10.8,"d":"g"},{"b":111,"v":-11.3,"d":"r"},{"b":112,"v":-11.8,"d":"r"},{"b":113,"v":-11.9,"d":"r"},{"b":114,"v":-11.5,"d":"g"},{"b":115,"v":-11.3,"d":"g"},{"b":116,"v":-11.0,"d":"g"},{"b":117,"v":-10.8,"d":"g"},{"b":118,"v":-10.6,"d":"g"},{"b":119,"v":-9.4,"d":"g"},{"b":120,"v":-9.8,"d":"r"},{"b":121,"v":-9.4,"d":"g"},{"b":122,"v":-10.1,"d":"r"},{"b":123,"v":-11.3,"d":"r"},{"b":124,"v":-12.2,"d":"r"},{"b":125,"v":-12.5,"d":"r"},{"b":126,"v":-12.4,"d":"g"},{"b":127,"v":-13.0,"d":"r"},{"b":128,"v":-13.1,"d":"r"},{"b":129,"v":-12.7,"d":"g"},{"b":130,"v":-12.2,"d":"g"},{"b":131,"v":-12.5,"d":"r"},{"b":132,"v":-11.8,"d":"g"},{"b":133,"v":-11.3,"d":"g"},{"b":134,"v":-10.8,"d":"g"},{"b":135,"v":-11.0,"d":"r"},{"b":136,"v":-10.6,"d":"g"},{"b":137,"v":-9.8,"d":"g"},{"b":138,"v":-8.9,"d":"g"},{"b":139,"v":-8.2,"d":"g"},{"b":140,"v":-7.0,"d":"g"},{"b":141,"v":-5.0,"d":"g"},{"b":142,"v":-3.4,"d":"g"},{"b":143,"v":-1.0,"d":"g"},{"b":144,"v":-0.1,"d":"g"},{"b":145,"v":0.1,"d":"g"},{"b":146,"v":0.7,"d":"g"},{"b":147,"v":1.0,"d":"g"},{"b":148,"v":1.7,"d":"g"},{"b":149,"v":2.6,"d":"g"},{"b":150,"v":5.5,"d":"g"},{"b":151,"v":9.4,"d":"g"},{"b":152,"v":12.2,"d":"g"},{"b":153,"v":15.8,"d":"g"},{"b":154,"v":17.8,"d":"g"},{"b":155,"v":19.4,"d":"g"},{"b":156,"v":18.7,"d":"r"},{"b":157,"v":18.5,"d":"r"},{"b":158,"v":17.5,"d":"r"},{"b":159,"v":16.3,"d":"r"},{"b":160,"v":14.6,"d":"r"},{"b":161,"v":13.4,"d":"r"},{"b":162,"v":11.8,"d":"r"},{"b":163,"v":10.3,"d":"r"},{"b":164,"v":9.4,"d":"r"},{"b":165,"v":8.9,"d":"r"},{"b":166,"v":8.4,"d":"r"},{"b":167,"v":8.2,"d":"r"},{"b":168,"v":7.9,"d":"r"},{"b":169,"v":7.8,"d":"r"},{"b":170,"v":8.2,"d":"g"},{"b":171,"v":7.9,"d":"r"},{"b":172,"v":8.9,"d":"g"},{"b":173,"v":9.4,"d":"g"},{"b":174,"v":8.4,"d":"r"},{"b":175,"v":9.8,"d":"g"},{"b":176,"v":11.0,"d":"g"},{"b":177,"v":12.2,"d":"g"},{"b":178,"v":14.2,"d":"g"},{"b":179,"v":15.8,"d":"g"},{"b":180,"v":17.0,"d":"g"},{"b":181,"v":17.5,"d":"g"},{"b":182,"v":18.0,"d":"g"},{"b":183,"v":18.5,"d":"g"},{"b":184,"v":19.4,"d":"g"},{"b":185,"v":18.7,"d":"r"},{"b":186,"v":17.5,"d":"r"},{"b":187,"v":16.1,"d":"r"},{"b":188,"v":14.6,"d":"r"},{"b":189,"v":13.4,"d":"r"},{"b":190,"v":11.8,"d":"r"},{"b":191,"v":10.3,"d":"r"},{"b":192,"v":10.8,"d":"g"},{"b":193,"v":9.8,"d":"r"},{"b":194,"v":9.4,"d":"r"},{"b":195,"v":8.9,"d":"r"},{"b":196,"v":8.4,"d":"r"},{"b":197,"v":7.0,"d":"r"},{"b":198,"v":5.5,"d":"r"},{"b":199,"v":3.8,"d":"r"},{"b":200,"v":3.6,"d":"r"},{"b":201,"v":1.7,"d":"r"},{"b":202,"v":0.2,"d":"r"},{"b":203,"v":-1.7,"d":"r"},{"b":204,"v":-4.1,"d":"r"},{"b":205,"v":-6.5,"d":"r"},{"b":206,"v":-8.2,"d":"r"},{"b":207,"v":-9.8,"d":"r"},{"b":208,"v":-10.8,"d":"r"},{"b":209,"v":-11.8,"d":"r"},{"b":210,"v":-12.5,"d":"r"},{"b":211,"v":-13.2,"d":"r"},{"b":212,"v":-14.2,"d":"r"},{"b":213,"v":-15.4,"d":"r"},{"b":214,"v":-16.1,"d":"r"},{"b":215,"v":-15.4,"d":"g"},{"b":216,"v":-14.2,"d":"g"},{"b":217,"v":-13.0,"d":"g"},{"b":218,"v":-11.8,"d":"g"},{"b":219,"v":-9.8,"d":"g"},{"b":220,"v":-8.2,"d":"g"},{"b":221,"v":-6.5,"d":"g"},{"b":222,"v":-5.3,"d":"g"},{"b":223,"v":-5.8,"d":"r"},{"b":224,"v":-6.5,"d":"r"},{"b":225,"v":-5.8,"d":"g"},{"b":226,"v":-4.6,"d":"g"},{"b":227,"v":-3.4,"d":"g"},{"b":228,"v":-1.4,"d":"g"},{"b":229,"v":-0.7,"d":"g"},{"b":230,"v":-0.5,"d":"g"},{"b":231,"v":-1.0,"d":"r"},{"b":232,"v":-1.7,"d":"r"},{"b":233,"v":-3.4,"d":"r"},{"b":234,"v":-4.6,"d":"r"},{"b":235,"v":-5.8,"d":"r"},{"b":236,"v":-7.0,"d":"r"},{"b":237,"v":-8.2,"d":"r"},{"b":238,"v":-9.349,"d":"r"}
],
"ac":[
{"b":0,"v":-1.18,"d":"r"},{"b":1,"v":-1.87,"d":"r"},{"b":2,"v":-2.16,"d":"r"},{"b":3,"v":-1.87,"d":"g"},{"b":4,"v":-0.69,"d":"g"},{"b":5,"v":-0.2,"d":"g"},{"b":6,"v":0.1,"d":"g"},{"b":7,"v":-0.88,"d":"r"},{"b":8,"v":-2.65,"d":"r"},{"b":9,"v":-3.83,"d":"r"},{"b":10,"v":-4.62,"d":"r"},{"b":11,"v":-4.82,"d":"r"},{"b":12,"v":-4.42,"d":"g"},{"b":13,"v":-3.83,"d":"g"},{"b":14,"v":-3.44,"d":"g"},{"b":15,"v":-3.24,"d":"g"},{"b":16,"v":-2.85,"d":"g"},{"b":17,"v":-2.16,"d":"g"},{"b":18,"v":-0.88,"d":"g"},{"b":19,"v":-0.49,"d":"g"},{"b":20,"v":-0.69,"d":"r"},{"b":21,"v":-0.88,"d":"r"},{"b":22,"v":-0.69,"d":"g"},{"b":23,"v":-0.49,"d":"g"},{"b":24,"v":-0.29,"d":"g"},{"b":25,"v":-0.1,"d":"g"},{"b":26,"v":0.49,"d":"g"},{"b":27,"v":0.69,"d":"g"},{"b":28,"v":1.08,"d":"g"},{"b":29,"v":2.06,"d":"g"},{"b":30,"v":2.75,"d":"g"},{"b":31,"v":3.14,"d":"g"},{"b":32,"v":3.24,"d":"g"},{"b":33,"v":3.34,"d":"g"},{"b":34,"v":3.44,"d":"g"},{"b":35,"v":3.24,"d":"r"},{"b":36,"v":0.79,"d":"r"},{"b":37,"v":-2.65,"d":"r"},{"b":38,"v":-4.62,"d":"r"},{"b":39,"v":-7.08,"d":"r"},{"b":40,"v":-8.55,"d":"r"},{"b":41,"v":-5.6,"d":"g"},{"b":42,"v":-1.87,"d":"g"},{"b":43,"v":1.77,"d":"g"},{"b":44,"v":3.74,"d":"g"},{"b":45,"v":3.44,"d":"r"},{"b":46,"v":2.46,"d":"r"},{"b":47,"v":1.08,"d":"r"},{"b":48,"v":0.98,"d":"r"},{"b":49,"v":1.47,"d":"g"},{"b":50,"v":2.46,"d":"g"},{"b":51,"v":2.75,"d":"g"},{"b":52,"v":2.65,"d":"r"},{"b":53,"v":0.29,"d":"r"},{"b":54,"v":-2.65,"d":"r"},{"b":55,"v":-5.11,"d":"r"},{"b":56,"v":-5.6,"d":"r"},{"b":57,"v":-4.42,"d":"g"},{"b":58,"v":-3.15,"d":"g"},{"b":59,"v":-2.46,"d":"g"},{"b":60,"v":-0.2,"d":"g"},{"b":61,"v":-0.29,"d":"r"},{"b":62,"v":-1.18,"d":"r"},{"b":63,"v":-1.38,"d":"r"},{"b":64,"v":-2.46,"d":"r"},{"b":65,"v":-3.15,"d":"r"},{"b":66,"v":-1.87,"d":"g"},{"b":67,"v":-0.1,"d":"g"},{"b":68,"v":0.49,"d":"g"},{"b":69,"v":1.08,"d":"g"},{"b":70,"v":1.47,"d":"g"},{"b":71,"v":0.49,"d":"r"},{"b":72,"v":0.69,"d":"g"},{"b":73,"v":1.08,"d":"g"},{"b":74,"v":1.47,"d":"g"},{"b":75,"v":2.46,"d":"g"},{"b":76,"v":2.95,"d":"g"},{"b":77,"v":2.46,"d":"r"},{"b":78,"v":1.08,"d":"r"},{"b":79,"v":0.1,"d":"r"},{"b":80,"v":-0.69,"d":"r"},{"b":81,"v":-0.98,"d":"r"},{"b":82,"v":-0.29,"d":"g"},{"b":83,"v":-0.1,"d":"g"},{"b":84,"v":-0.2,"d":"r"},{"b":85,"v":-0.1,"d":"g"},{"b":86,"v":-0.69,"d":"r"},{"b":87,"v":-0.88,"d":"r"},{"b":88,"v":-0.98,"d":"r"},{"b":89,"v":-0.1,"d":"g"},{"b":90,"v":0.0,"d":"g"},{"b":91,"v":-0.2,"d":"r"},{"b":92,"v":-0.88,"d":"r"},{"b":93,"v":-1.67,"d":"r"},{"b":94,"v":-2.46,"d":"r"},{"b":95,"v":-1.67,"d":"g"},{"b":96,"v":-0.49,"d":"g"},{"b":97,"v":0.1,"d":"g"},{"b":98,"v":0.39,"d":"g"},{"b":99,"v":-0.2,"d":"r"},
{"b":100,"v":-0.49,"d":"r"},{"b":101,"v":-0.69,"d":"r"},{"b":102,"v":0.29,"d":"g"},{"b":103,"v":0.49,"d":"g"},{"b":104,"v":0.79,"d":"g"},{"b":105,"v":0.88,"d":"g"},{"b":106,"v":0.1,"d":"r"},{"b":107,"v":-0.1,"d":"r"},{"b":108,"v":-0.49,"d":"r"},{"b":109,"v":-0.29,"d":"g"},{"b":110,"v":-0.1,"d":"g"},{"b":111,"v":0.0,"d":"g"},{"b":112,"v":-0.2,"d":"r"},{"b":113,"v":-0.29,"d":"r"},{"b":114,"v":-0.2,"d":"g"},{"b":115,"v":-0.1,"d":"g"},{"b":116,"v":0.02,"d":"g"},{"b":117,"v":0.1,"d":"g"},{"b":118,"v":0.29,"d":"g"},{"b":119,"v":1.08,"d":"g"},{"b":120,"v":0.59,"d":"r"},{"b":121,"v":0.49,"d":"r"},{"b":122,"v":-0.2,"d":"r"},{"b":123,"v":-1.18,"d":"r"},{"b":124,"v":-1.87,"d":"r"},{"b":125,"v":-2.16,"d":"r"},{"b":126,"v":-1.18,"d":"g"},{"b":127,"v":-0.49,"d":"g"},{"b":128,"v":-0.2,"d":"g"},{"b":129,"v":-0.1,"d":"g"},{"b":130,"v":0.02,"d":"g"},{"b":131,"v":0.1,"d":"g"},{"b":132,"v":0.49,"d":"g"},{"b":133,"v":1.08,"d":"g"},{"b":134,"v":0.79,"d":"r"},{"b":135,"v":0.29,"d":"r"},{"b":136,"v":0.1,"d":"r"},{"b":137,"v":-0.1,"d":"r"},{"b":138,"v":0.79,"d":"g"},{"b":139,"v":1.47,"d":"g"},{"b":140,"v":2.26,"d":"g"},{"b":141,"v":2.75,"d":"g"},{"b":142,"v":2.95,"d":"g"},{"b":143,"v":3.05,"d":"g"},{"b":144,"v":2.95,"d":"r"},{"b":145,"v":1.77,"d":"r"},{"b":146,"v":1.08,"d":"r"},{"b":147,"v":0.98,"d":"r"},{"b":148,"v":0.88,"d":"r"},{"b":149,"v":1.47,"d":"g"},{"b":150,"v":3.24,"d":"g"},{"b":151,"v":4.72,"d":"g"},{"b":152,"v":5.7,"d":"g"},{"b":153,"v":5.41,"d":"r"},{"b":154,"v":5.31,"d":"r"},{"b":155,"v":4.23,"d":"r"},{"b":156,"v":1.28,"d":"r"},{"b":157,"v":0.29,"d":"r"},{"b":158,"v":-0.29,"d":"r"},{"b":159,"v":-1.7,"d":"r"},{"b":160,"v":-2.5,"d":"r"},{"b":161,"v":-2.7,"d":"r"},{"b":162,"v":-2.6,"d":"g"},{"b":163,"v":-2.4,"d":"g"},{"b":164,"v":-1.9,"d":"g"},{"b":165,"v":-1.4,"d":"g"},{"b":166,"v":-1.0,"d":"g"},{"b":167,"v":-0.7,"d":"g"},{"b":168,"v":-0.2,"d":"g"},{"b":169,"v":0.0,"d":"g"},{"b":170,"v":0.05,"d":"g"},{"b":171,"v":0.5,"d":"g"},{"b":172,"v":0.55,"d":"g"},{"b":173,"v":0.4,"d":"r"},{"b":174,"v":0.5,"d":"g"},{"b":175,"v":0.6,"d":"g"},{"b":176,"v":1.3,"d":"g"},{"b":177,"v":2.3,"d":"g"},{"b":178,"v":3.2,"d":"g"},{"b":179,"v":2.7,"d":"r"},{"b":180,"v":1.3,"d":"r"},{"b":181,"v":0.8,"d":"r"},{"b":182,"v":0.5,"d":"r"},{"b":183,"v":0.3,"d":"r"},{"b":184,"v":0.35,"d":"g"},{"b":185,"v":-0.3,"d":"r"},{"b":186,"v":-0.7,"d":"r"},{"b":187,"v":-1.5,"d":"r"},{"b":188,"v":-2.2,"d":"r"},{"b":189,"v":-2.6,"d":"r"},{"b":190,"v":-2.9,"d":"r"},{"b":191,"v":-2.46,"d":"g"},{"b":192,"v":-1.67,"d":"g"},{"b":193,"v":-1.47,"d":"g"},{"b":194,"v":-1.18,"d":"g"},{"b":195,"v":-1.1,"d":"g"},{"b":196,"v":-0.98,"d":"g"},{"b":197,"v":-1.47,"d":"r"},{"b":198,"v":-1.3,"d":"g"},{"b":199,"v":-1.67,"d":"r"},{"b":200,"v":-2.46,"d":"r"},{"b":201,"v":-3.15,"d":"r"},{"b":202,"v":-3.64,"d":"r"},{"b":203,"v":-3.83,"d":"r"},{"b":204,"v":-4.13,"d":"r"},{"b":205,"v":-4.23,"d":"r"},{"b":206,"v":-4.42,"d":"r"},{"b":207,"v":-4.13,"d":"g"},{"b":208,"v":-2.65,"d":"g"},{"b":209,"v":-1.67,"d":"g"},{"b":210,"v":-1.18,"d":"g"},{"b":211,"v":-1.4,"d":"r"},{"b":212,"v":-1.3,"d":"g"},{"b":213,"v":-1.1,"d":"g"},{"b":214,"v":-0.7,"d":"g"},{"b":215,"v":0.1,"d":"g"},{"b":216,"v":0.5,"d":"g"},{"b":217,"v":1.08,"d":"g"},{"b":218,"v":1.77,"d":"g"},{"b":219,"v":2.46,"d":"g"},{"b":220,"v":2.75,"d":"g"},{"b":221,"v":2.95,"d":"g"},{"b":222,"v":2.26,"d":"r"},{"b":223,"v":0.79,"d":"r"},{"b":224,"v":0.1,"d":"r"},{"b":225,"v":-0.1,"d":"r"},{"b":226,"v":0.49,"d":"g"},{"b":227,"v":1.08,"d":"g"},{"b":228,"v":2.06,"d":"g"},{"b":229,"v":1.47,"d":"r"},{"b":230,"v":0.49,"d":"r"},{"b":231,"v":0.1,"d":"r"},{"b":232,"v":-0.49,"d":"r"},{"b":233,"v":-1.18,"d":"r"},{"b":234,"v":-1.67,"d":"r"},{"b":235,"v":-2.16,"d":"r"},{"b":236,"v":-2.46,"d":"r"},{"b":237,"v":-2.56,"d":"r"},{"b":238,"v":-1.8065,"d":"g"}
],
"lv":[{"p":1931,"t":"1931.00"},{"p":1925,"t":"1925.00"},{"p":1915,"t":"1915.00"},{"p":1905,"t":"1905.00"},{"p":1896,"t":"1896.00"},{"p":1888,"t":"1888.00"}],
"last":[{"p":1909.83,"t":"1909.83"}]
},
"vconcat":[
{"width":1203,"height":357,
"layer":[
{"data":{"name":"c"},"mark":{"type":"rule","strokeWidth":1},
"encoding":{
"x":{"field":"b","type":"quantitative","title":null,"scale":{"domain":[-0.375,300.375],"nice":false,"zero":false},"axis":null},
"y":{"field":"l","type":"quantitative","title":null,"scale":{"domain":[1882.16,1993.2],"nice":false,"zero":false},"axis":{"orient":"right","values":[1883.1,1893.3,1903.5,1913.7,1923.9,1933.8,1944.0,1954.2,1964.4,1974.6,1984.8],"format":".2f","tickSize":3,"labelPadding":3,"domain":true,"title":null,"labelOverlap":false}},
"y2":{"field":"h"},
"color":{"condition":{"test":"datum.c>=datum.o","value":"#32cd32"},"value":"#ff0000"}}},
{"data":{"name":"c"},"mark":{"type":"bar","size":3},
"encoding":{
"x":{"field":"b","type":"quantitative","title":null,"scale":{"domain":[-0.375,300.375],"nice":false,"zero":false},"axis":null},
"y":{"field":"o","type":"quantitative","title":null,"scale":{"domain":[1882.16,1993.2],"nice":false,"zero":false},"axis":{"orient":"right","values":[1883.1,1893.3,1903.5,1913.7,1923.9,1933.8,1944.0,1954.2,1964.4,1974.6,1984.8],"format":".2f","tickSize":3,"labelPadding":3,"domain":true,"title":null,"labelOverlap":false}},
"y2":{"field":"c"},
"color":{"condition":{"test":"datum.c>=datum.o","value":"#32cd32"},"value":"#ff0000"}}},
{"data":{"name":"ma"},"mark":{"type":"line","strokeWidth":1},
"encoding":{
"x":{"field":"b","type":"quantitative","title":null,"scale":{"domain":[-0.375,300.375],"nice":false,"zero":false},"axis":null},
"y":{"field":"v","type":"quantitative","title":null,"scale":{"domain":[1882.16,1993.2],"nice":false,"zero":false},"axis":{"orient":"right","values":[1883.1,1893.3,1903.5,1913.7,1923.9,1933.8,1944.0,1954.2,1964.4,1974.6,1984.8],"format":".2f","tickSize":3,"labelPadding":3,"domain":true,"title":null,"labelOverlap":false}},
"color":{"field":"s","type":"nominal","scale":{"domain":["jaw","teeth","lips"],"range":["#0000ff","#ff0000","#00ff00"]},"legend":null}}},
{"data":{"name":"lv"},"mark":{"type":"rule","color":"#ff0000","strokeWidth":1.3},
"encoding":{"y":{"field":"p","type":"quantitative","title":null,"scale":{"domain":[1882.16,1993.2],"nice":false,"zero":false},"axis":{"orient":"right","values":[1883.1,1893.3,1903.5,1913.7,1923.9,1933.8,1944.0,1954.2,1964.4,1974.6,1984.8],"format":".2f","tickSize":3,"labelPadding":3,"domain":true,"title":null,"labelOverlap":false}}}},
{"data":{"name":"last"},"mark":{"type":"rule","color":"#c0c0c0","strokeWidth":1},
"encoding":{"y":{"field":"p","type":"quantitative","title":null,"scale":{"domain":[1882.16,1993.2],"nice":false,"zero":false},"axis":{"orient":"right","values":[1883.1,1893.3,1903.5,1913.7,1923.9,1933.8,1944.0,1954.2,1964.4,1974.6,1984.8],"format":".2f","tickSize":3,"labelPadding":3,"domain":true,"title":null,"labelOverlap":false}}}},
{"data":{"values":[{"m":"bottom"}]},"mark":{"type":"rule","color":"#d8d8c8","strokeWidth":1,"yOffset":-0.5},
"encoding":{"y":{"datum":1882.16,"type":"quantitative","axis":{"orient":"right","values":[1883.1,1893.3,1903.5,1913.7,1923.9,1933.8,1944.0,1954.2,1964.4,1974.6,1984.8],"format":".2f","tickSize":3,"labelPadding":3,"domain":true,"title":null,"labelOverlap":false}}}},
{"data":{"name":"lv"},"mark":{"type":"tick","orient":"horizontal","color":"#ff0000","size":41,"thickness":11,"opacity":1},
"encoding":{"x":{"datum":306.25,"type":"quantitative","axis":null},"y":{"field":"p","type":"quantitative","title":null,"axis":{"orient":"right","values":[1883.1,1893.3,1903.5,1913.7,1923.9,1933.8,1944.0,1954.2,1964.4,1974.6,1984.8],"format":".2f","tickSize":3,"labelPadding":3,"domain":true,"title":null,"labelOverlap":false}}}},
{"data":{"name":"lv"},"mark":{"type":"text","color":"#000000","font":"Liberation Sans","fontSize":9.5,"align":"center","baseline":"middle"},
"encoding":{"x":{"datum":306.25,"type":"quantitative","axis":null},"y":{"field":"p","type":"quantitative","title":null,"axis":{"orient":"right","values":[1883.1,1893.3,1903.5,1913.7,1923.9,1933.8,1944.0,1954.2,1964.4,1974.6,1984.8],"format":".2f","tickSize":3,"labelPadding":3,"domain":true,"title":null,"labelOverlap":false}},"text":{"field":"t"}}},
{"data":{"name":"last"},"mark":{"type":"tick","orient":"horizontal","color":"#fffff0","size":41,"thickness":11,"opacity":1},
"encoding":{"x":{"datum":306.25,"type":"quantitative","axis":null},"y":{"field":"p","type":"quantitative","title":null,"axis":{"orient":"right","values":[1883.1,1893.3,1903.5,1913.7,1923.9,1933.8,1944.0,1954.2,1964.4,1974.6,1984.8],"format":".2f","tickSize":3,"labelPadding":3,"domain":true,"title":null,"labelOverlap":false}}}},
{"data":{"name":"last"},"mark":{"type":"text","color":"#000000","font":"Liberation Sans","fontSize":9.5,"align":"center","baseline":"middle"},
"encoding":{"x":{"datum":306.25,"type":"quantitative","axis":null},"y":{"field":"p","type":"quantitative","title":null,"axis":{"orient":"right","values":[1883.1,1893.3,1903.5,1913.7,1923.9,1933.8,1944.0,1954.2,1964.4,1974.6,1984.8],"format":".2f","tickSize":3,"labelPadding":3,"domain":true,"title":null,"labelOverlap":false}},"text":{"field":"t"}}},
{"data":{"values":[{"t":"XAUUSD,H4  1910.21 1910.47 1908.21 1909.83"}]},"mark":{"type":"text","color":"#f0f0f0","font":"Liberation Sans","fontSize":9.5,"align":"left","baseline":"top","dx":15,"dy":2},
"encoding":{"x":{"datum":-0.375,"type":"quantitative","axis":null},"y":{"datum":1993.2,"type":"quantitative","axis":{"orient":"right","values":[1883.1,1893.3,1903.5,1913.7,1923.9,1933.8,1944.0,1954.2,1964.4,1974.6,1984.8],"format":".2f","tickSize":3,"labelPadding":3,"domain":true,"title":null,"labelOverlap":false}},"text":{"field":"t"}}},
{"data":{"values":[{"m":"a"}]},"mark":{"type":"point","shape":"triangle-down","filled":true,"color":"#f0f0f0","size":28,"opacity":1},
"encoding":{"x":{"datum":1.375,"type":"quantitative","axis":null},"y":{"datum":1991.2,"type":"quantitative","axis":{"orient":"right","values":[1883.1,1893.3,1903.5,1913.7,1923.9,1933.8,1944.0,1954.2,1964.4,1974.6,1984.8],"format":".2f","tickSize":3,"labelPadding":3,"domain":true,"title":null,"labelOverlap":false}}}},
{"data":{"values":[{"m":"b"}]},"mark":{"type":"point","shape":"triangle-down","filled":true,"color":"#c0c0c0","size":60,"opacity":1},
"encoding":{"x":{"datum":239.9,"type":"quantitative","axis":null},"y":{"datum":1992.5,"type":"quantitative","axis":{"orient":"right","values":[1883.1,1893.3,1903.5,1913.7,1923.9,1933.8,1944.0,1954.2,1964.4,1974.6,1984.8],"format":".2f","tickSize":3,"labelPadding":3,"domain":true,"title":null,"labelOverlap":false}}}}
]},
{"width":1203,"height":59,
"layer":[
{"data":{"name":"ao"},"mark":{"type":"rule","strokeWidth":1},
"encoding":{
"x":{"field":"b","type":"quantitative","title":null,"scale":{"domain":[-0.375,300.375],"nice":false,"zero":false},"axis":null},
"y":{"field":"v","type":"quantitative","title":null,"scale":{"domain":[-20.165,22.312],"nice":false,"zero":false},"axis":{"orient":"right","values":[-20.165,0,22.312],"labelExpr":"datum.value == 0 ? '0.00' : format(datum.value, '.3f')","labelFlush":true,"tickSize":3,"labelPadding":3,"domain":true,"title":null}},
"y2":{"datum":0},
"color":{"condition":{"test":"datum.d=='g'","value":"#32cd32"},"value":"#ff0000"}}},
{"data":{"values":[{"m":"t"}]},"mark":{"type":"rule","color":"#d8d8c8","strokeWidth":1,"yOffset":0.5},
"encoding":{"y":{"datum":22.312,"type":"quantitative"}}},
{"data":{"values":[{"m":"b"}]},"mark":{"type":"rule","color":"#d8d8c8","strokeWidth":1,"yOffset":-0.5},
"encoding":{"y":{"datum":-20.165,"type":"quantitative"}}},
{"data":{"values":[{"t":"AO -9.349"}]},"mark":{"type":"text","color":"#f0f0f0","font":"Liberation Sans","fontSize":9.5,"align":"left","baseline":"top","dx":5,"dy":3},
"encoding":{"x":{"datum":-0.375,"type":"quantitative","axis":null},"y":{"datum":22.312,"type":"quantitative"},"text":{"field":"t"}}}
]},
{"width":1203,"height":57,
"layer":[
{"data":{"name":"ac"},"mark":{"type":"rule","strokeWidth":1},
"encoding":{
"x":{"field":"b","type":"quantitative","title":null,"scale":{"domain":[-0.375,300.375],"nice":false,"zero":false},"axis":{"orient":"bottom","values":[0,16,32,48,64,80,96,112,128,144,160,176,192,208,224],"labelExpr":"['19 Jul 2023','24 Jul 05:00','26 Jul 21:00','31 Jul 13:00','3 Aug 05:00','7 Aug 21:00','10 Aug 13:00','15 Aug 05:00','17 Aug 21:00','22 Aug 13:00','25 Aug 05:00','29 Aug 21:00','1 Sep 13:00','6 Sep 09:00','11 Sep 01:00'][round(datum.value/16)]","labelAlign":"left","labelPadding":-1,"labelOffset":-3,"tickOffset":-1.5,"tickSize":3,"labelOverlap":false,"labelFlush":false,"domain":true,"title":null}},
"y":{"field":"v","type":"quantitative","title":null,"scale":{"domain":[-9.9072,6.9424],"nice":false,"zero":false},"axis":{"orient":"right","values":[-9.9072,0,6.9424],"labelExpr":"datum.value == 0 ? '0.00' : format(datum.value, '.4f')","labelFlush":true,"tickSize":3,"labelPadding":3,"domain":true,"title":null}},
"y2":{"datum":0},
"color":{"condition":{"test":"datum.d=='g'","value":"#32cd32"},"value":"#ff0000"}}},
{"data":{"values":[{"m":"t"}]},"mark":{"type":"rule","color":"#d8d8c8","strokeWidth":1,"yOffset":0.5},
"encoding":{"y":{"datum":6.9424,"type":"quantitative"}}},
{"data":{"values":[{"t":"AC -1.8065"}]},"mark":{"type":"text","color":"#f0f0f0","font":"Liberation Sans","fontSize":9.5,"align":"left","baseline":"top","dx":5,"dy":4},
"encoding":{"x":{"datum":-0.375,"type":"quantitative"},"y":{"datum":6.9424,"type":"quantitative"},"text":{"field":"t"}}}
]}
]
}
